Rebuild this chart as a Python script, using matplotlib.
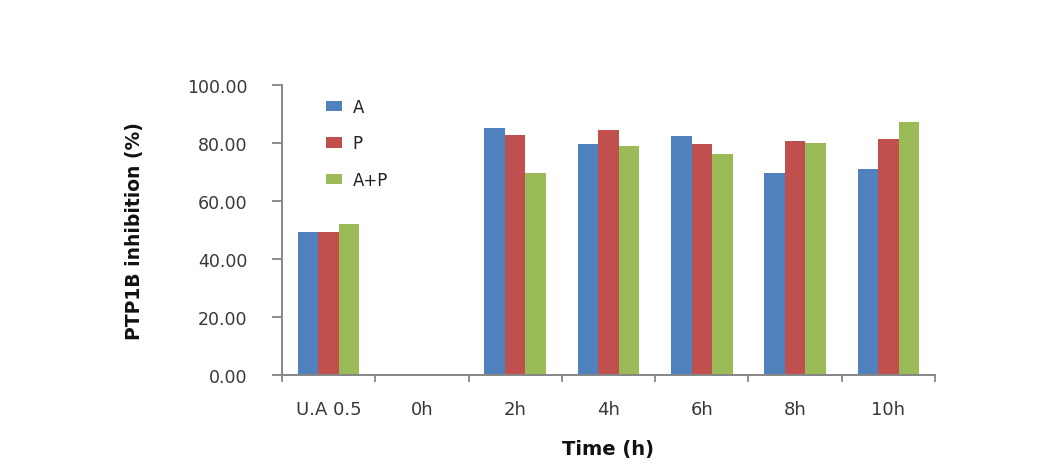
import matplotlib
matplotlib.use("Agg")
import matplotlib.pyplot as plt
import numpy as np

categories = ["U.A 0.5", "0h", "2h", "4h", "6h", "8h", "10h"]
series_names = ["A", "P", "A+P"]
vals_A = [49.4, 0, 85.1, 79.7, 82.3, 69.8, 71.0]
vals_P = [49.4, 0, 82.9, 84.5, 79.7, 80.7, 81.3]
vals_AP = [52.2, 0, 69.8, 79.1, 76.2, 80.1, 87.1]
colors = ["#4F81BD", "#C0504D", "#9BBB59"]
yticks = [0, 20, 40, 60, 80, 100]

fig = plt.figure(figsize=(10.53, 4.77), dpi=100)
ax = fig.add_axes([282/1053, 1-376/477, (935-282)/1053, (376-86)/477])

x = np.arange(len(categories))
w = 0.22
for i, (vals, name) in enumerate(zip([vals_A, vals_P, vals_AP], series_names)):
    ax.bar(x + (i - 1) * w, vals, width=w, color=colors[i], label=name, linewidth=0)

ax.set_xlim(-0.5, len(categories) - 0.5)
ax.set_ylim(0, 100)
ax.set_yticks(yticks)
ax.set_yticklabels([f"{v:.2f}" for v in yticks])
ax.set_xticks(x)
ax.set_xticklabels(categories)
ax.set_xticks(np.arange(-0.5, len(categories)), minor=True)
ax.tick_params(axis="x", which="major", length=0, pad=18, labelsize=13, colors="#383838")
ax.tick_params(axis="x", which="minor", length=5, width=1.3, color="#868686")
ax.tick_params(axis="y", length=7, width=1.3, color="#868686", labelsize=12.5,
               labelcolor="#383838", pad=18)

for s in ["top", "right"]:
    ax.spines[s].set_visible(False)
for s in ["left", "bottom"]:
    ax.spines[s].set_color("#868686")
    ax.spines[s].set_linewidth(1.4)

ax.set_ylabel("PTP1B inhibition (%)", fontsize=13.5, fontweight="bold", color="#111111")
ax.yaxis.set_label_coords(-0.212, 0.5)
ax.set_xlabel("Time (h)", fontsize=14, fontweight="bold", color="#111111")
ax.xaxis.set_label_coords(0.5, -0.222)

leg = ax.legend(loc="upper left", bbox_to_anchor=(0.045, 1.008), frameon=False, fontsize=12,
                handlelength=0.96, handleheight=0.6, labelspacing=1.12, handletextpad=0.6)
for t in leg.get_texts():
    t.set_color("#222222")

fig.savefig("out.png", dpi=100)
